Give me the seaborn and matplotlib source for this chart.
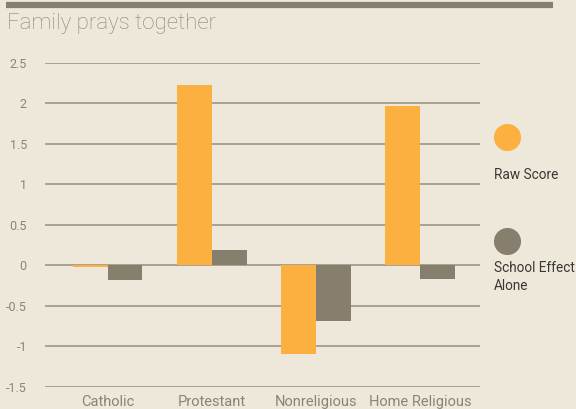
import matplotlib
matplotlib.use("Agg")
import matplotlib.pyplot as plt
import pandas as pd
import seaborn as sns

# values
groups = ["Catholic", "Protestant", "Nonreligious", "Home Religious"]
raw_score = [-0.02, 2.23, -1.09, 1.97]
school_effect = [-0.18, 0.19, -0.69, -0.17]
series = ["Raw Score", "School Effect\nAlone"]
yticks = [-1.5, -1, -0.5, 0, 0.5, 1, 1.5, 2, 2.5]

orange = "#fbb040"
taupe = "#877f6e"
bg = "#eee8db"
grid_c = "#a39b8b"
label_c = "#8a8478"

df = pd.DataFrame({
    "group": groups * 2,
    "value": raw_score + school_effect,
    "series": [series[0]] * 4 + [series[1]] * 4,
})

sns.set_style("white")
plt.rcParams["font.family"] = ["Roboto", "DejaVu Sans"]

fig = plt.figure(figsize=(5.76, 4.09), dpi=100, facecolor=bg)
ax = fig.add_axes([0.078, 0.054, 0.755, 0.792])
ax.set_facecolor(bg)

sns.barplot(data=df, x="group", y="value", hue="series",
            palette=[orange, taupe], width=0.67, gap=0,
            legend=False, ax=ax, saturation=1, linewidth=0)

ax.set_xlim(-0.6, 3.57)
ax.set_ylim(-1.5, 2.5)
ax.set_yticks(yticks)
ax.set_yticklabels([f"{t:g}" for t in yticks])
ax.set_xlabel("")
ax.set_ylabel("")
ax.set_axisbelow(True)
ax.yaxis.grid(True, color=grid_c, lw=1.3)
ax.xaxis.grid(False)
for s in ax.spines.values():
    s.set_visible(False)
ax.tick_params(axis="y", length=0, pad=13, labelsize=9, labelcolor=label_c)
ax.tick_params(axis="x", length=0, pad=6, labelsize=10.5, labelcolor=label_c)

# top rule and title
fig.add_artist(plt.Line2D([6 / 576, 553 / 576], [1 - 5 / 409, 1 - 5 / 409],
                          color=taupe, lw=4.5, solid_capstyle="butt",
                          transform=fig.transFigure))
fig.text(7 / 576, 1 - 23 / 409, "Family prays together", fontsize=16,
         fontweight="light", color=label_c, va="center", ha="left")

# legend
for (py, ty, txt, col) in [(137, 175, series[0], orange),
                           (241, 277, series[1], taupe)]:
    fig.add_artist(plt.Line2D([507 / 576], [1 - py / 409], marker="o",
                              markersize=18.5, color=col, lw=0,
                              transform=fig.transFigure))
    fig.text(494 / 576, 1 - ty / 409, txt, fontsize=9.8, color="#3a3834",
             ha="left", va="center", linespacing=1.3)

fig.savefig("out.png", dpi=100, facecolor=bg)
